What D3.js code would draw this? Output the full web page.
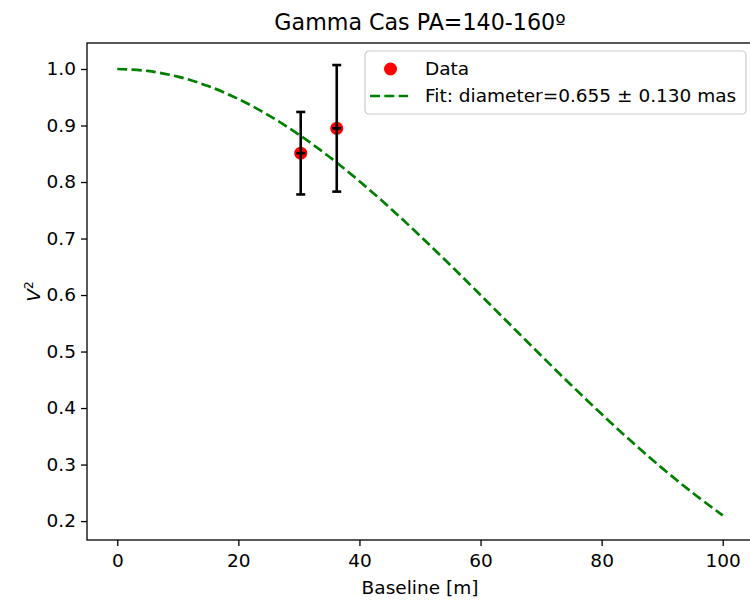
<!DOCTYPE html>
<html>
<head>
<meta charset="utf-8">
<script src="https://cdn.jsdelivr.net/npm/d3@7"></script>
<style>
  html, body { margin: 0; padding: 0; background: #fff; }
  svg { display: block; font-family: "DejaVu Sans", sans-serif; }
</style>
</head>
<body>
<svg id="chart" width="750" height="603"></svg>
<script>
// Measured squared visibilities
const baselines = [30.3, 36.25];
const v2Values = [0.851, 0.895];
const v2Errors = [0.073, 0.112];
const baselineErrors = [0.75, 0.75];

// Uniform-disk fit curve, sampled every 5 m
const fitBaselines = [0, 5, 10, 15, 20, 25, 30, 35, 40, 45, 50, 55, 60, 65, 70, 75, 80, 85, 90, 95, 100];
const fitV2 = [1.0, 0.9966, 0.9865, 0.9698, 0.9469, 0.9180, 0.8838, 0.8447, 0.8014, 0.7545, 0.7048,
               0.6531, 0.6000, 0.5464, 0.4930, 0.4404, 0.3893, 0.3402, 0.2937, 0.2502, 0.2100];

const xTicks = [0, 20, 40, 60, 80, 100];
const yTicks = [0.2, 0.3, 0.4, 0.5, 0.6, 0.7, 0.8, 0.9, 1.0];

const titleText = "Gamma Cas PA=140-160º";
const xLabelText = "Baseline [m]";
const legendLabels = ["Data", "Fit: diameter=0.655 ± 0.130 mas"];

const svg = d3.select("#chart");
const plot = { left: 87, top: 43, right: 753, bottom: 540 };

const x = d3.scaleLinear().domain([-5, 105]).range([plot.left, plot.right]);
const y = d3.scaleLinear().domain([0.1665, 1.046]).range([plot.bottom, plot.top]);

const tickFont = 18.5;

// Axes
const xAxis = d3.axisBottom(x).tickValues(xTicks).tickFormat(d3.format("d")).tickSize(6).tickPadding(5);
const yAxis = d3.axisLeft(y).tickValues(yTicks).tickFormat(d3.format(".1f")).tickSize(6).tickPadding(5);

const gx = svg.append("g").attr("transform", `translate(0,${plot.bottom})`).call(xAxis);
const gy = svg.append("g").attr("transform", `translate(${plot.left},0)`).call(yAxis);
[gx, gy].forEach(g => {
  g.select(".domain").remove();
  g.selectAll(".tick line").attr("stroke", "#000").attr("stroke-width", 1.3);
  g.selectAll(".tick text").attr("fill", "#000").attr("font-size", tickFont)
    .attr("font-family", "DejaVu Sans, sans-serif");
});
gx.selectAll(".tick text").attr("dy", "0.85em");

// Spines
svg.append("rect")
  .attr("x", plot.left).attr("y", plot.top)
  .attr("width", plot.right - plot.left).attr("height", plot.bottom - plot.top)
  .attr("fill", "none").attr("stroke", "#000").attr("stroke-width", 1.3);

// Fit curve
const line = d3.line()
  .x((d, i) => x(fitBaselines[i]))
  .y(d => y(d))
  .curve(d3.curveCatmullRom.alpha(0.5));

svg.append("path")
  .datum(fitV2)
  .attr("d", line)
  .attr("fill", "none")
  .attr("stroke", "#008000")
  .attr("stroke-width", 2.7)
  .attr("stroke-dasharray", "10,4.3");

// Data points
const pts = baselines.map((b, i) => ({ b, v: v2Values[i], e: v2Errors[i], xe: baselineErrors[i] }));

svg.append("g").selectAll("circle").data(pts).join("circle")
  .attr("cx", d => x(d.b)).attr("cy", d => y(d.v)).attr("r", 6.5)
  .attr("fill", "#ff0000");

const cap = 4.5;
const eb = svg.append("g").attr("stroke", "#000").attr("stroke-width", 2.6);
pts.forEach(d => {
  const cx = x(d.b);
  eb.append("line").attr("x1", cx).attr("x2", cx).attr("y1", y(d.v + d.e)).attr("y2", y(d.v - d.e));
  eb.append("line").attr("x1", cx - cap).attr("x2", cx + cap).attr("y1", y(d.v + d.e)).attr("y2", y(d.v + d.e));
  eb.append("line").attr("x1", cx - cap).attr("x2", cx + cap).attr("y1", y(d.v - d.e)).attr("y2", y(d.v - d.e));
  const cy = y(d.v);
  eb.append("line").attr("x1", x(d.b - d.xe)).attr("x2", x(d.b + d.xe)).attr("y1", cy).attr("y2", cy);
});

// Title and axis labels
svg.append("text")
  .attr("x", (plot.left + plot.right) / 2).attr("y", 30)
  .attr("text-anchor", "middle").attr("font-size", 22.2).attr("fill", "#000")
  .text(titleText);

svg.append("text")
  .attr("x", (plot.left + plot.right) / 2).attr("y", 594)
  .attr("text-anchor", "middle").attr("font-size", tickFont).attr("fill", "#000")
  .text(xLabelText);

const yl = svg.append("text")
  .attr("transform", `translate(40,${(plot.top + plot.bottom) / 2}) rotate(-90)`)
  .attr("text-anchor", "middle").attr("font-size", tickFont).attr("fill", "#000");
yl.append("tspan").attr("font-style", "italic").text("V");
yl.append("tspan").attr("font-size", 12.5).attr("dy", -7).text("2");

// Legend
const lg = svg.append("g").attr("transform", "translate(365,51)");
lg.append("rect")
  .attr("width", 381).attr("height", 63).attr("rx", 4)
  .attr("fill", "#fff").attr("fill-opacity", 0.8)
  .attr("stroke", "#cccccc").attr("stroke-width", 1.2);
lg.append("circle").attr("cx", 25.5).attr("cy", 18).attr("r", 6.5).attr("fill", "#ff0000");
lg.append("line").attr("x1", 5).attr("x2", 43).attr("y1", 45).attr("y2", 45)
  .attr("stroke", "#008000").attr("stroke-width", 2.7).attr("stroke-dasharray", "10,4.3");
lg.append("text").attr("x", 60).attr("y", 24).attr("font-size", tickFont).attr("fill", "#000").text(legendLabels[0]);
lg.append("text").attr("x", 60).attr("y", 51).attr("font-size", tickFont).attr("fill", "#000").text(legendLabels[1]);
</script>
</body>
</html>
